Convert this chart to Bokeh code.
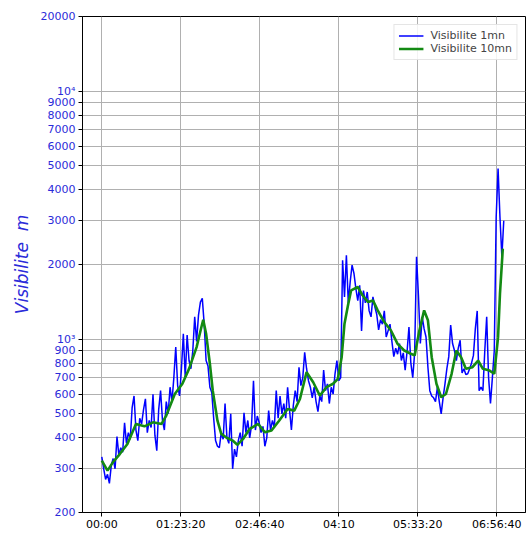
from bokeh.plotting import figure
from bokeh.models import Range1d, FixedTicker, Legend, LegendItem
from bokeh.embed import file_html
from bokeh.resources import INLINE

# 1-minute visibility (sampled every 2 min), time in minutes
t_1mn = list(range(0, 426, 2))
vis_1mn = [
    335, 300, 272, 285, 262, 310, 330, 300, 405, 340,
    365, 350, 460, 380, 420, 395, 530, 590, 430, 390,
    480, 455, 520, 575, 420, 470, 440, 600, 410, 355,
    520, 620, 470, 430, 560, 500, 640, 560, 700, 930,
    650, 590, 760, 1050, 700, 1040, 820, 760, 900, 1230,
    980, 1250, 1410, 1460, 1150, 820, 780, 640, 610, 480,
    390, 370, 365, 420, 395, 550, 400, 380, 500, 300,
    360, 335, 390, 420, 370, 505, 420, 470, 400, 450,
    680, 430, 490, 460, 420, 445, 370, 400, 515, 430,
    470, 440, 620, 480, 590, 500, 550, 480, 640, 520,
    430, 540, 620, 560, 770, 650, 700, 885, 760, 680,
    640, 580, 640, 560, 510, 590, 560, 750, 620, 660,
    550, 640, 600, 725, 820, 680, 700, 2080, 1480, 2180,
    1400, 1700, 1990, 1840, 1600, 1430, 1650, 1080, 1570, 1400,
    1550, 1300, 1230, 1480, 1350, 1260, 1090, 1200, 1150, 1300,
    1020, 1080, 1150, 980, 850, 920, 870, 960, 820, 880,
    750, 890, 1120, 800, 700, 880, 2150, 1500, 960, 1230,
    1100, 1020, 770, 620, 590, 580, 560, 640, 560, 500,
    580, 660, 760, 850, 1140, 960, 900, 820, 920, 990,
    730, 760, 720, 725, 760, 800, 860, 1100, 1300, 620,
    640, 620, 900, 1230, 700, 550, 700, 900, 3100, 4880,
    3100, 2150, 3000,
]

# 10-minute visibility, time in minutes
t_10mn = [0, 6, 12, 19, 27, 36, 45, 54, 63, 68, 77, 85, 92, 100, 105, 107, 110,
          114, 117, 122, 126, 131, 138, 143, 149, 156, 165, 172, 179, 187, 196,
          203, 209, 216, 223, 230, 237, 244, 249, 253, 256, 260, 263, 270, 275,
          281, 286, 291, 298, 305, 312, 319, 326, 330, 335, 340, 344, 348, 353,
          358, 363, 369, 374, 379, 384, 391, 397, 402, 409, 414, 418, 420, 423]
vis_10mn = [324, 295, 320, 344, 378, 455, 445, 462, 455, 492, 601, 661, 759, 929,
            1117, 1197, 1052, 796, 621, 469, 415, 402, 390, 375, 396, 435, 455,
            421, 428, 469, 523, 515, 574, 736, 670, 592, 640, 661, 692, 846, 1154,
            1390, 1574, 1623, 1503, 1411, 1433, 1306, 1172, 1084, 957, 900, 873,
            860, 1084, 1306, 1191, 846, 661, 583, 601, 725, 900, 846, 759, 771,
            820, 759, 747, 725, 1019, 1525, 2318]

x_ticks = [0, 5000, 10000, 15000, 20000, 25000]
x_labels = ["00:00", "01:23:20", "02:46:40", "04:10", "05:33:20", "06:56:40"]
y_ticks = [200, 300, 400, 500, 600, 700, 800, 900, 1000, 2000, 3000, 4000,
           5000, 6000, 7000, 8000, 9000, 10000, 20000]
y_labels = ["200", "300", "400", "500", "600", "700", "800", "900", "10³",
            "2000", "3000", "4000", "5000", "6000", "7000", "8000", "9000",
            "10⁴", "20000"]

FONT = "DejaVu Sans"
LBL = "#2b2bd9"

p = figure(width=527, height=533, output_backend="svg", toolbar_location=None,
           y_axis_type="log", x_range=Range1d(-1222, 26816),
           y_range=Range1d(200, 20000),
           min_border_left=82, min_border_right=2, min_border_top=16,
           min_border_bottom=15)
p.outline_line_color = "black"
p.outline_line_width = 1
p.background_fill_color = "white"
p.border_fill_color = "white"

xs1 = [t * 60 for t in t_1mn]
xs10 = [t * 60 for t in t_10mn]
r1 = p.line(xs1, vis_1mn, line_color="#0000ff", line_width=1.5)
r10 = p.line(xs10, vis_10mn, line_color="#138a13", line_width=2.6)

p.xaxis.ticker = FixedTicker(ticks=x_ticks)
p.xaxis.major_label_overrides = {k: v for k, v in zip(x_ticks, x_labels)}
p.yaxis.ticker = FixedTicker(ticks=y_ticks)
p.yaxis.major_label_overrides = {k: v for k, v in zip(y_ticks, y_labels)}

for ax in (p.xaxis[0], p.yaxis[0]):
    ax.axis_line_color = "black"
    ax.major_tick_line_color = "black"
    ax.major_tick_out = 4
    ax.major_tick_in = 0
    ax.minor_tick_out = 0
    ax.minor_tick_in = 0
    ax.major_label_text_font = FONT
    ax.major_label_text_font_size = "11px"

p.xaxis.major_label_text_color = "black"
p.xaxis.major_label_standoff = 1
p.yaxis.major_label_text_color = LBL
p.yaxis.major_label_standoff = 3
p.yaxis.axis_label = "Visibilite\u00a0 m"
p.yaxis.axis_label_text_font = FONT
p.yaxis.axis_label_text_font_style = "italic"
p.yaxis.axis_label_text_font_size = "17px"
p.yaxis.axis_label_text_color = LBL
p.yaxis.axis_label_standoff = 6

p.xgrid.grid_line_color = "#b0b0b0"
p.ygrid.grid_line_color = "#b0b0b0"
p.xgrid.grid_line_width = 1
p.ygrid.grid_line_width = 1

legend = Legend(items=[LegendItem(label="Visibilite 1mn", renderers=[r1]),
                       LegendItem(label="Visibilite 10mn", renderers=[r10])],
                location="top_right")
legend.label_text_font = FONT
legend.label_text_font_size = "11px"
legend.label_height = 13
legend.glyph_height = 13
legend.glyph_width = 25
legend.label_standoff = 7
legend.spacing = 0
legend.padding = 4
legend.margin = 8
legend.border_line_color = "#cccccc"
legend.background_fill_alpha = 0.85
p.add_layout(legend)

open("out.html", "w").write(file_html(p, INLINE))
